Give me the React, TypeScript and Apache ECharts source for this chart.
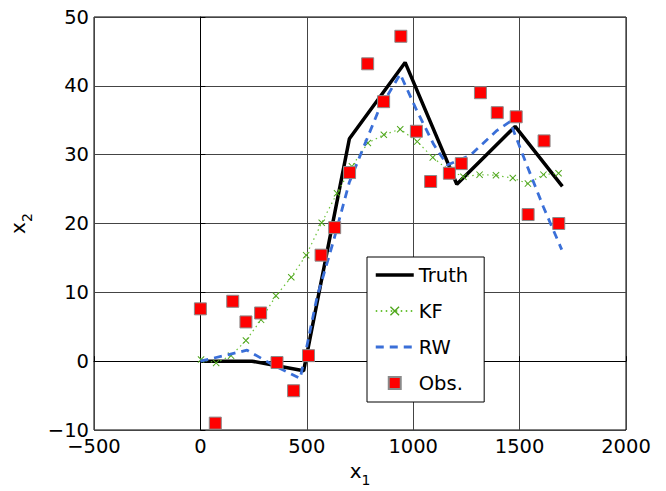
import React, { useEffect, useRef } from "react";
import * as echarts from "echarts";

const truthX = [0, 243, 485, 700, 962, 1205, 1479, 1701];
const truthY = [0, 0, -1.4, 32.3, 43.4, 25.7, 34.1, 25.4];

const kfX = [3, 74, 144, 214, 285, 355, 427, 497, 570, 642, 712, 787, 862, 939, 1019, 1092, 1164, 1236, 1312, 1389, 1468, 1539, 1612, 1683];
const kfY = [0.25, -0.25, 0.8, 3.0, 6.0, 9.5, 12.2, 15.4, 20.1, 24.4, 28.3, 31.7, 32.9, 33.7, 31.9, 29.6, 27.8, 26.8, 27.1, 27.0, 26.6, 25.8, 27.1, 27.3];

const rwX = [0, 125, 219, 344, 469, 548, 626, 700, 767, 837, 939, 1017, 1096, 1160, 1268, 1393, 1455, 1526, 1612, 1698];
const rwY = [0, 0.9, 1.6, -0.6, -2.5, 9.3, 17.5, 26.0, 31.1, 36.4, 41.7, 36.4, 31.5, 28.5, 29.9, 33.5, 34.8, 29.1, 22.4, 16.2];

const obsX = [0, 70, 152, 214, 283, 360, 438, 508, 567, 631, 701, 786, 861, 942, 1015, 1082, 1170, 1226, 1316, 1395, 1484, 1540, 1615, 1684];
const obsY = [7.6, -9.0, 8.7, 5.7, 7.0, -0.2, -4.3, 0.8, 15.4, 19.4, 27.4, 43.2, 37.7, 47.2, 33.4, 26.1, 27.3, 28.7, 39.0, 36.1, 35.5, 21.3, 32.0, 20.0];

const seriesNames = ["Truth", "KF", "RW", "Obs."];

const xTicks = { min: -500, max: 2000, interval: 500 };
const yTicks = { min: -10, max: 50, interval: 10 };

const FONT = "'DejaVu Sans', 'Liberation Sans', Arial, sans-serif";
const CROSS = "path://M1,0 L5,4 L9,0 L10,1 L6,5 L10,9 L9,10 L5,6 L1,10 L0,9 L4,5 L0,1 Z";
const SQUARE = "path://M0,0 L10,0 L10,10 L0,10 Z";

const zip = (xs: number[], ys: number[]) => xs.map((x, i) => [x, ys[i]]);
const fmt = (v: number) => String(v).replace("-", "\u2212");

const nameRich = {
  a: { fontSize: 20, fontFamily: FONT, color: "#000", verticalAlign: "bottom", padding: [0, 0, 6, 0] },
  b: { fontSize: 14, fontFamily: FONT, color: "#000", verticalAlign: "bottom" },
};

export default function App() {
  const ref = useRef<HTMLDivElement>(null);
  useEffect(() => {
    if (!ref.current) return;
    const chart = echarts.init(ref.current, null, { renderer: "svg" });
    chart.setOption({
      animation: false,
      backgroundColor: "#fff",
      textStyle: { fontFamily: FONT },
      grid: {
        left: 94,
        right: 40,
        top: 17,
        bottom: 61,
        containLabel: false,
        outerBoundsMode: "none",
        show: true,
        borderColor: "#000",
        borderWidth: 1,
        backgroundColor: "transparent",
      },
      xAxis: {
        type: "value",
        min: xTicks.min,
        max: xTicks.max,
        interval: xTicks.interval,
        name: "{a|x}{b|1}",
        nameLocation: "middle",
        nameGap: 31,
        nameTextStyle: { rich: nameRich },
        axisLine: { show: true, lineStyle: { color: "#000", width: 1 } },
        axisTick: { show: true, inside: true, length: 5, lineStyle: { color: "#000" } },
        axisLabel: { formatter: fmt, fontSize: 19.5, color: "#000", fontFamily: FONT, margin: 6 },
        splitLine: { show: true, lineStyle: { color: "#444", width: 1 } },
      },
      yAxis: {
        type: "value",
        min: yTicks.min,
        max: yTicks.max,
        interval: yTicks.interval,
        name: "{a|x}{b|2}",
        nameLocation: "middle",
        nameGap: 60,
        nameRotate: 90,
        nameTextStyle: { rich: nameRich },
        axisLine: { show: true, lineStyle: { color: "#000", width: 1 } },
        axisTick: { show: true, inside: true, length: 5, lineStyle: { color: "#000" } },
        axisLabel: { formatter: fmt, fontSize: 19.5, color: "#000", fontFamily: FONT, margin: 5 },
        splitLine: { show: true, lineStyle: { color: "#444", width: 1 } },
      },
      legend: {
        orient: "vertical",
        left: 367,
        top: 257,
        padding: [7, 16, 8, 7],
        itemGap: 14,
        itemWidth: 38,
        itemHeight: 12,
        backgroundColor: "#fff",
        borderColor: "#000",
        borderWidth: 1,
        borderRadius: 0,
        textStyle: { fontSize: 19.5, lineHeight: 22, color: "#000", fontFamily: FONT },
        data: [
          { name: seriesNames[0], itemStyle: { opacity: 0 }, lineStyle: { width: 3.5 } },
          { name: seriesNames[1] },
          { name: seriesNames[2], itemStyle: { opacity: 0 }, lineStyle: { width: 2.8 } },
          { name: seriesNames[3], icon: SQUARE },
        ],
      },
      series: [
        {
          name: seriesNames[0],
          type: "line",
          data: zip(truthX, truthY),
          symbol: "none",
          lineStyle: { color: "#000", width: 3.5 },
          itemStyle: { color: "#000" },
          z: 2,
        },
        {
          name: seriesNames[1],
          type: "line",
          data: zip(kfX, kfY),
          symbol: CROSS,
          symbolSize: 7,
          lineStyle: { color: "#6cc23a", width: 1.2, type: [1.5, 3.5] },
          itemStyle: { color: "#4fa61c" },
          z: 3,
        },
        {
          name: seriesNames[2],
          type: "line",
          data: zip(rwX, rwY),
          symbol: "none",
          lineStyle: { color: "#3a6fd8", width: 2.8, type: [8, 6] },
          itemStyle: { color: "#3a6fd8" },
          z: 4,
        },
        {
          name: seriesNames[3],
          type: "scatter",
          data: zip(obsX, obsY),
          symbol: "rect",
          symbolSize: 12,
          itemStyle: { color: "#ff0000", borderColor: "#8a8a8a", borderWidth: 1, opacity: 1 },
          z: 5,
        },
      ],
    });
    return () => chart.dispose();
  }, []);
  return (
    <div
      ref={ref}
      style={{ position: "fixed", left: 0, top: 0, width: 666, height: 491, background: "#fff" }}
    />
  );
}
